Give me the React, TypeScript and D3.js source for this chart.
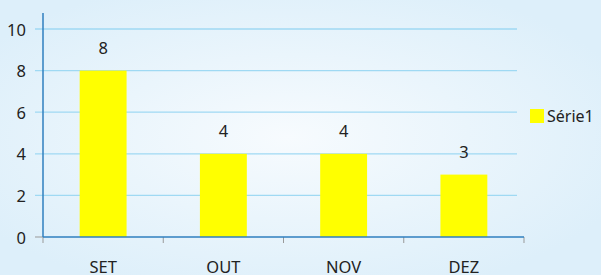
import { useMemo } from 'react';
import * as d3 from 'd3';

const months = ['SET', 'OUT', 'NOV', 'DEZ'];
const serie1 = [8, 4, 4, 3];
const yTicks = [0, 2, 4, 6, 8, 10];
const seriesName = 'Série1';

const W = 601;
const H = 275;
const FONT = "'Noto Sans', 'DejaVu Sans', sans-serif";

export default function App() {
  const x = useMemo(
    () => d3.scaleBand<string>().domain(months).range([43, 524]).paddingInner(0).paddingOuter(0),
    []
  );
  const y = useMemo(() => d3.scaleLinear().domain([0, 10]).range([237, 29]), []);
  const barW = x.bandwidth() * 0.39;

  return (
    <svg
      width={W}
      height={H}
      style={{ position: 'absolute', left: 0, top: 0 }}
      fontFamily={FONT}
    >
      <defs>
        <radialGradient id="bg" cx="0.48" cy="0.5" r="0.6">
          <stop offset="0" stopColor="#f7fbfe" />
          <stop offset="1" stopColor="#ddeffa" />
        </radialGradient>
      </defs>
      <rect width={W} height={H} fill="url(#bg)" />

      {/* gridlines + y labels */}
      {yTicks.map((t) => (
        <g key={t}>
          {t > 0 && (
            <line x1={35} x2={517} y1={y(t)} y2={y(t)} stroke="#9fd9f3" strokeWidth={1.3} />
          )}
          {t === 0 && <line x1={35} x2={43} y1={y(t)} y2={y(t)} stroke="#999" strokeWidth={1} />}
          <text
            x={26}
            y={y(t)}
            textAnchor="end"
            dominantBaseline="central"
            fontSize={16.5}
            fill="#222"
          >
            {t}
          </text>
        </g>
      ))}

      {/* bars */}
      {serie1.map((v, i) => {
        const cx = (x(months[i]) ?? 0) + x.bandwidth() / 2;
        return (
          <g key={months[i]}>
            <rect x={cx - barW / 2} y={y(v)} width={barW} height={y(0) - y(v)} fill="#ffff00" />
            <text
              x={cx}
              y={y(v) - 23}
              textAnchor="middle"
              dominantBaseline="central"
              fontSize={16.5}
              fill="#222"
            >
              {v}
            </text>
          </g>
        );
      })}

      {/* x axis ticks */}
      {[...months.map((m) => x(m) ?? 0), 524].map((px, i) => (
        <line key={i} x1={px} x2={px} y1={y(0)} y2={y(0) + 6} stroke="#999" strokeWidth={1} />
      ))}

      {/* axes */}
      <line x1={43} x2={43} y1={13} y2={y(0)} stroke="#2f7fbf" strokeWidth={1.5} />
      <line x1={43} x2={524} y1={y(0)} y2={y(0)} stroke="#2f7fbf" strokeWidth={1.5} />

      {/* x labels */}
      {months.map((m) => (
        <text
          key={m}
          x={(x(m) ?? 0) + x.bandwidth() / 2}
          y={273}
          textAnchor="middle"
          fontSize={16.5}
          fill="#222"
        >
          {m}
        </text>
      ))}

      {/* legend */}
      <rect x={530} y={109} width={14} height={14} fill="#ffff00" />
      <text x={547} y={116} dominantBaseline="central" fontSize={16} fill="#222">
        {seriesName}
      </text>
    </svg>
  );
}
